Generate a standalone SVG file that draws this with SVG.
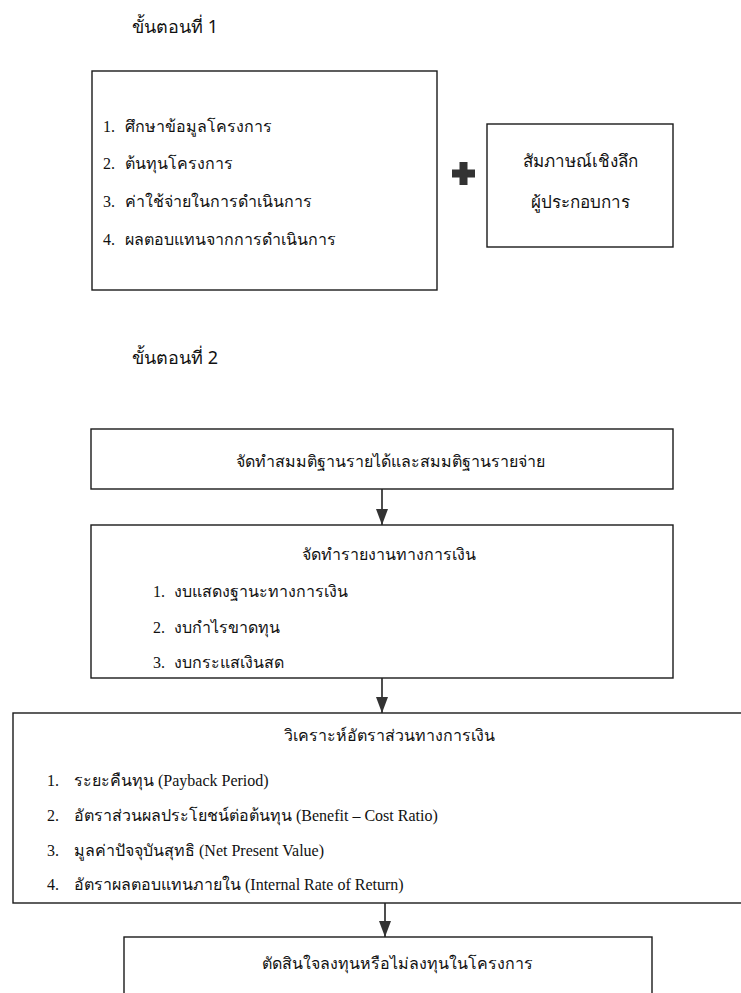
<svg xmlns="http://www.w3.org/2000/svg" width="741" height="993" viewBox="0 0 741 993">
<defs>
<style>
.box{fill:#fff;stroke:#1a1a1a;stroke-width:1.4}
.t{font-family:"Liberation Serif","Noto Sans",serif;font-size:16px;fill:#111}
.h{font-family:"Noto Sans","DejaVu Sans",sans-serif;font-size:18px;fill:#111}
.c{text-anchor:middle}
.conn{stroke:#222;stroke-width:1.6;fill:none}
</style>
<marker id="ah" viewBox="0 0 16 12" refX="16" refY="6" markerWidth="16" markerHeight="12" markerUnits="userSpaceOnUse" orient="auto">
<path d="M0,0 L16,6 L0,12 Z" fill="#333"/>
</marker>
</defs>
<rect width="741" height="993" fill="#fff"/>

<text class="h" x="132" y="33">ขั้นตอนที่ 1</text>
<text class="h" x="132" y="364">ขั้นตอนที่ 2</text>

<g id="node-study">
<rect class="box" x="92" y="71" width="345" height="219"/>
<text class="t" x="103" y="132">1.</text><text class="t" x="125" y="132">ศึกษาข้อมูลโครงการ</text>
<text class="t" x="103" y="169">2.</text><text class="t" x="125" y="169">ต้นทุนโครงการ</text>
<text class="t" x="103" y="207">3.</text><text class="t" x="125" y="207">ค่าใช้จ่ายในการดำเนินการ</text>
<text class="t" x="103" y="245">4.</text><text class="t" x="125" y="245">ผลตอบแทนจากการดำเนินการ</text>
</g>

<g id="plus">
<rect x="452" y="169.5" width="23" height="8" fill="#333"/>
<rect x="459.5" y="162" width="8" height="23" fill="#333"/>
</g>

<g id="node-interview">
<rect class="box" x="487" y="124" width="186" height="123"/>
<text class="t c" x="580" y="167" style="font-size:17px">สัมภาษณ์เชิงลึก</text>
<text class="t c" x="580" y="208" style="font-size:17px">ผู้ประกอบการ</text>
</g>

<g id="node-assumption">
<rect class="box" x="91" y="429" width="582" height="60"/>
<text class="t c" x="390" y="467">จัดทำสมมติฐานรายได้และสมมติฐานรายจ่าย</text>
</g>

<g id="node-report">
<rect class="box" x="91" y="525" width="582" height="153"/>
<text class="t c" x="389" y="560">จัดทำรายงานทางการเงิน</text>
<text class="t" x="153" y="597">1.</text><text class="t" x="174" y="597">งบแสดงฐานะทางการเงิน</text>
<text class="t" x="153" y="633">2.</text><text class="t" x="174" y="633">งบกำไรขาดทุน</text>
<text class="t" x="153" y="668">3.</text><text class="t" x="174" y="668">งบกระแสเงินสด</text>
</g>

<g id="node-analysis">
<rect class="box" x="13" y="713" width="740" height="190"/>
<text class="t c" x="389" y="741">วิเคราะห์อัตราส่วนทางการเงิน</text>
<text class="t" x="47" y="786">1.</text><text class="t" x="74" y="786">ระยะคืนทุน (Payback Period)</text>
<text class="t" x="47" y="821">2.</text><text class="t" x="74" y="821">อัตราส่วนผลประโยชน์ต่อต้นทุน (Benefit – Cost Ratio)</text>
<text class="t" x="47" y="856">3.</text><text class="t" x="74" y="856">มูลค่าปัจจุบันสุทธิ (Net Present Value)</text>
<text class="t" x="47" y="890">4.</text><text class="t" x="74" y="890">อัตราผลตอบแทนภายใน (Internal Rate of Return)</text>
</g>

<g id="node-decision">
<rect class="box" x="124" y="937" width="528" height="70"/>
<text class="t c" x="397" y="969">ตัดสินใจลงทุนหรือไม่ลงทุนในโครงการ</text>
</g>

<g id="connectors">
<line class="conn" x1="382" y1="489" x2="382" y2="525" marker-end="url(#ah)"/>
<line class="conn" x1="382" y1="678" x2="382" y2="713" marker-end="url(#ah)"/>
<line class="conn" x1="385" y1="903" x2="385" y2="937" marker-end="url(#ah)"/>
</g>
</svg>
